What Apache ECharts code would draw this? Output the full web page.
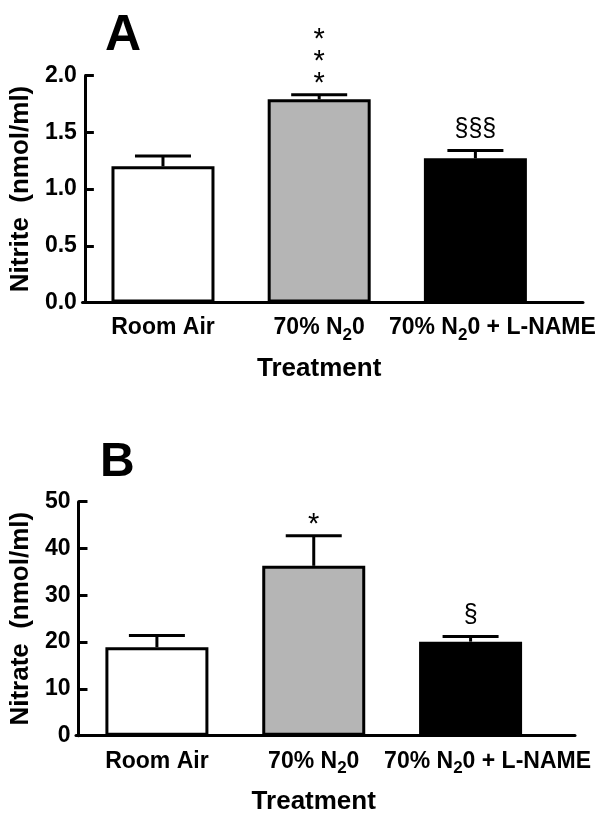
<!DOCTYPE html>
<html>
<head>
<meta charset="utf-8">
<script src="https://cdn.jsdelivr.net/npm/echarts@6/dist/echarts.min.js"></script>
<style>
html,body{margin:0;padding:0;background:#fff;}
#chart{width:615px;height:819px;}
</style>
</head>
<body>
<div id="chart"></div>
<script>
// ---- data ----
const categories = ['Room Air', '70% N20', '70% N20 + L-NAME'];
const barColors = ['#ffffff', '#b5b5b5', '#000000'];
const nitriteMean = [1.20, 1.79, 1.27];
const nitriteSem = [0.09, 0.04, 0.07];
const nitriteMarks = ['', '*\n*\n*', '§§§'];
const nitrateMean = [18.9, 36.3, 20.1];
const nitrateSem = [2.5, 6.4, 1.1];
const nitrateMarks = ['', '*', '§'];
const nitriteAxis = {min: 0, max: 2, interval: 0.5};
const nitrateAxis = {min: 0, max: 50, interval: 10};
const panelLetters = ['A', 'B'];
const yTitles = ['Nitrite  (nmol/ml)', 'Nitrate  (nmol/ml)'];
const xTitle = 'Treatment';

// ---- layout ----
const FONT = "'Liberation Sans', Arial, Helvetica, sans-serif";
const panels = [
  {left: 82.5, top: 75.5, bottom: 819 - 302.5, right: 615 - 553.5, extRight: 615 - 583, nameGapY: 37},
  {left: 76, top: 501.7, bottom: 819 - 735.7, right: 615 - 549, extRight: 615 - 575, nameGapY: 34}
];
const labelShift = [0, 0, 34]; // extra left spacer (px) so the long label sits right of its bar

const chart = echarts.init(document.getElementById('chart'), null, {renderer: 'canvas'});

// subscript the "2" in N20
function catFormatter(v, idx) {
  const pre = labelShift[idx] ? '{p| }' : '';
  const i = v.indexOf('N2');
  if (i < 0) return pre + '{m|' + v + '}';
  return pre + '{m|' + v.slice(0, i + 1) + '}{s|2}{m|' + v.slice(i + 2) + '}';
}

const grids = [], xAxes = [], yAxes = [], series = [];
const datasets = [
  {mean: nitriteMean, sem: nitriteSem, marks: nitriteMarks, axis: nitriteAxis, fmt: v => v.toFixed(1)},
  {mean: nitrateMean, sem: nitrateSem, marks: nitrateMarks, axis: nitrateAxis, fmt: v => String(v)}
];

panels.forEach((p, i) => {
  const d = datasets[i];
  grids.push({left: p.left, right: p.right, top: p.top, bottom: p.bottom, containLabel: false});
  grids.push({left: p.left, right: p.extRight, top: p.top, bottom: p.bottom, containLabel: false});
  const gi = grids.length - 2;
  xAxes.push({
    type: 'category', gridIndex: gi, data: categories,
    axisLine: {show: false},
    axisTick: {show: false},
    axisLabel: {
      interval: 0, margin: 9, formatter: catFormatter, color: '#000',
      rich: {
        m: {fontFamily: FONT, fontSize: 23, fontWeight: 'bold', color: '#000', lineHeight: 33},
        s: {fontFamily: FONT, fontSize: 17, fontWeight: 'bold', color: '#000', lineHeight: 17, padding: [15, 0, 0, 0]},
        p: {fontFamily: FONT, fontSize: 23, width: labelShift[2], lineHeight: 33}
      }
    },
    name: xTitle, nameLocation: 'middle', nameGap: 53,
    nameTextStyle: {fontFamily: FONT, fontSize: 26, fontWeight: 'bold', color: '#000'}
  });
  yAxes.push({
    type: 'value', gridIndex: gi, min: d.axis.min, max: d.axis.max, interval: d.axis.interval,
    axisLine: {show: true, lineStyle: {color: '#000', width: 3}},
    axisTick: {show: true, inside: true, length: 9, lineStyle: {color: '#000', width: 3}},
    splitLine: {show: false},
    axisLabel: {margin: 8, formatter: d.fmt, fontFamily: FONT, fontSize: 23, fontWeight: 'bold', color: '#000'},
    name: yTitles[i], nameLocation: 'middle', nameGap: p.nameGapY,
    nameTextStyle: {fontFamily: FONT, fontSize: 26, fontWeight: 'bold', color: '#000'}
  });
  xAxes.push({
    type: 'value', gridIndex: gi + 1, min: 0, max: 1,
    axisLine: {show: true, onZero: false, lineStyle: {color: '#000', width: 3}},
    axisTick: {show: false}, axisLabel: {show: false}, splitLine: {show: false}
  });
  yAxes.push({
    type: 'value', gridIndex: gi + 1, min: 0, max: 1, show: false
  });
  const xi = xAxes.length - 2, yi = yAxes.length - 2;
  series.push({
    type: 'bar', xAxisIndex: xi, yAxisIndex: yi, barWidth: 103, z: 2,
    data: d.mean.map((v, k) => ({value: v, itemStyle: {color: barColors[k], borderColor: '#000', borderWidth: 3}})),
    silent: true
  });
  series.push({
    type: 'custom', xAxisIndex: xi, yAxisIndex: yi, z: 3, silent: true,
    data: d.mean.map((v, k) => [k, v, d.sem[k]]),
    renderItem: function (params, api) {
      const k = api.value(0), m = api.value(1), e = api.value(2);
      const b = api.coord([k, m]);
      const t = api.coord([k, m + e]);
      const hw = 28;
      const mark = d.marks[k];
      const children = [
        {type: 'line', shape: {x1: b[0], y1: b[1], x2: t[0], y2: t[1]}, style: {stroke: '#000', lineWidth: 3}},
        {type: 'line', shape: {x1: t[0] - hw, y1: t[1], x2: t[0] + hw, y2: t[1]}, style: {stroke: '#000', lineWidth: 3}}
      ];
      if (mark) {
        const isStar = mark.indexOf('*') >= 0;
        children.push({
          type: 'text',
          style: {
            text: mark, x: t[0], y: isStar ? t[1] + 0 : t[1] - 10,
            align: 'center', verticalAlign: 'bottom',
            fontFamily: FONT, fontSize: isStar ? 29 : 25, fontWeight: 'normal',
            lineHeight: 22, fill: '#000'
          }
        });
      }
      return {type: 'group', children: children};
    }
  });
});

chart.setOption({
  animation: false,
  backgroundColor: '#ffffff',
  title: [
    {text: panelLetters[0], left: 100, top: 6, textStyle: {fontFamily: FONT, fontSize: 50, fontWeight: 'bold', color: '#000'}},
    {text: panelLetters[1], left: 95, top: 434, textStyle: {fontFamily: FONT, fontSize: 48, fontWeight: 'bold', color: '#000'}}
  ],
  grid: grids,
  xAxis: xAxes,
  yAxis: yAxes,
  series: series
});
</script>
</body>
</html>
